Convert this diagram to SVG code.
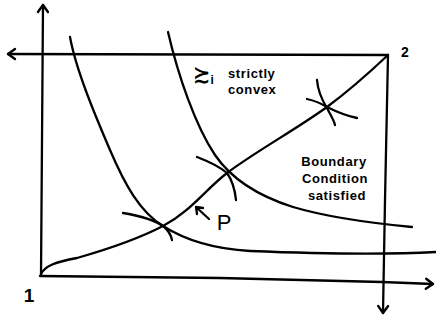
<svg xmlns="http://www.w3.org/2000/svg" width="436" height="322" viewBox="0 0 436 322">
<defs>
<marker id="ah" markerUnits="userSpaceOnUse" markerWidth="14" markerHeight="14" viewBox="-9 -7 11 14" refX="0" refY="0" orient="auto">
<path d="M-7,-5 L0,0 L-7,5" fill="none" stroke="#000" stroke-width="2.4" stroke-linecap="round" stroke-linejoin="round"/>
</marker>
</defs>
<style>
.ln{fill:none;stroke:#000;stroke-width:2.3;stroke-linecap:round;stroke-linejoin:round}
.ax{marker-end:url(#ah)}
.t{font-family:"Liberation Sans","DejaVu Sans",sans-serif;fill:#000}
.hw{font-size:13px;font-weight:bold;letter-spacing:0.6px}
</style>
<rect width="436" height="322" fill="#fff"/>
<g id="connectors">
<path id="axis-v1" class="ln ax" d="M41,275 L43,5"/>
<path id="axis-h2" class="ln ax" d="M388,55 L8,54"/>
<path id="axis-h1" class="ln ax" d="M40,276 L220,278 L382,282 L433,284"/>
<path id="axis-v2" class="ln ax" d="M388,55 L385,200 L383,313"/>
<path id="curve-a" class="ln" d="M70,37 C76,70 95,115 110,150 C125,185 140,212 163,226 C185,240 215,249 250,251 C300,253 380,255 436,252"/>
<path id="curve-b" class="ln" d="M168,32 C178,75 195,125 215,155 C230,177 255,195 293,207 C330,218 370,223 412,227"/>
<path id="contract" class="ln" d="M41,274 C45,266 55,262 77,258 C105,250 140,238 163,226 C190,212 205,190 227,173 C255,152 295,130 327,107 C350,90 370,72 388,55"/>
<path id="p1-tangent" class="ln" d="M123,213 C140,216 155,220 163,226 C168,230 171,235 172,240"/>
<path id="p2-tangent" class="ln" d="M197,157 C210,162 220,167 227,173 C232,180 235,190 236,200"/>
<path id="p3-a" class="ln" d="M317,80 C318,92 322,100 327,108 C330,114 334,120 335,125"/>
<path id="p3-b" class="ln" d="M307,99 C316,101 322,104 327,107 C337,112 347,116 357,118"/>
<path id="p-arrow" class="ln" d="M209,219 L196,207 M196,207 L197,214 M196,207 L203,208" stroke-width="2"/>
</g>
<g id="label-1"><text class="t" x="29" y="302" font-size="19" font-weight="bold" text-anchor="middle">1</text></g>
<g id="label-2"><text class="t" x="405" y="57" font-size="14" font-weight="bold" text-anchor="middle">2</text></g>
<g id="label-p"><text class="t" x="224" y="230" font-size="22" text-anchor="middle">P</text></g>
<g id="label-convex">
<text class="t" x="193" y="81" font-size="21" font-weight="bold">≿<tspan font-size="12" dy="3">i</tspan></text>
<text class="t hw" x="228" y="78">strictly</text>
<text class="t hw" x="228" y="94">convex</text>
</g>
<g id="label-boundary">
<text class="t hw" x="334" y="166" text-anchor="middle">Boundary</text>
<text class="t hw" x="335" y="183" text-anchor="middle">Condition</text>
<text class="t hw" x="337" y="200" text-anchor="middle">satisfied</text>
</g>
</svg>
